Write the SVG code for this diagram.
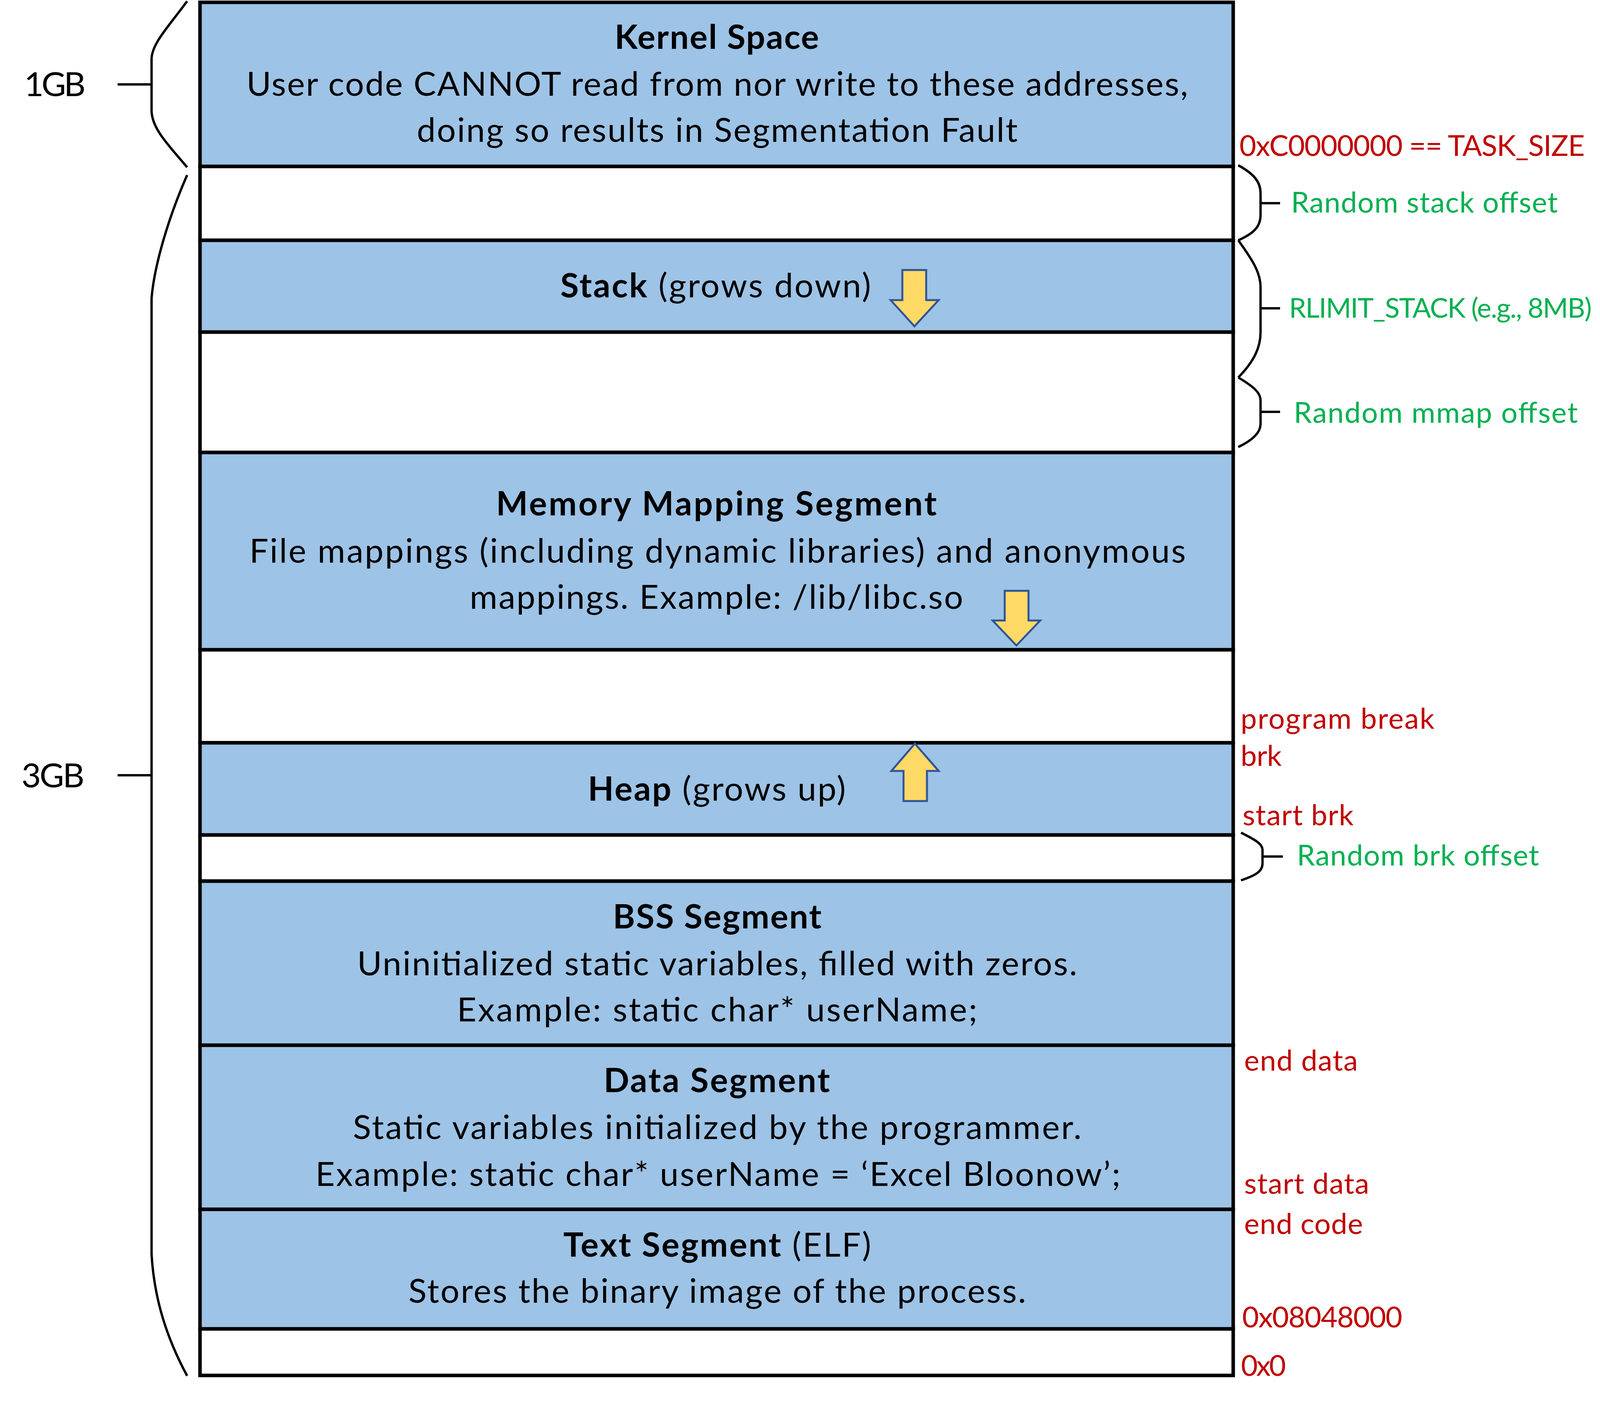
<svg xmlns="http://www.w3.org/2000/svg" width="4225" height="3588" viewBox="0 0 4225 3588">
<style>
.seg{stroke:#000;stroke-width:9}
.blue{fill:#9DC3E6}
.white{fill:#FFFFFF}
.t{font-family:Lato,"Open Sans","Liberation Sans",sans-serif;font-size:86px;fill:#000;text-anchor:middle}
.b{font-weight:bold}
.side{font-family:Lato,"Open Sans","Liberation Sans",sans-serif;font-size:74px}
.red{fill:#C00000}
.green{fill:#00B050}
.left{font-family:Lato,"Open Sans","Liberation Sans",sans-serif;font-size:86px;fill:#000}
.brace{fill:none;stroke:#000;stroke-width:6}
.arrow{fill:#FFD966;stroke:#2F5597;stroke-width:5;stroke-linejoin:miter}
</style>
<rect width="4225" height="3588" fill="#FFFFFF"/>
<g id="kernel-space">
<rect class="seg blue" x="512" y="6" width="2645" height="420"/>
<text class="t b" x="1835" y="125" textLength="523">Kernel Space</text>
<text class="t" x="1836" y="245" textLength="2410">User code CANNOT read from nor write to these addresses,</text>
<text class="t" x="1836" y="363" textLength="1538">doing so results in Segmentation Fault</text>
</g>
<g id="gap-stack-offset">
<rect class="seg white" x="512" y="426" width="2645" height="189"/>
</g>
<g id="stack">
<rect class="seg blue" x="512" y="615" width="2645" height="235"/>
<text class="t" x="1832" y="761" textLength="795"><tspan class="b">Stack</tspan> (grows down)</text>
<polygon class="arrow" points="2310,691 2371,691 2371,768 2403,768 2341,835 2280,768 2310,768"/>
</g>
<g id="gap-mmap-offset">
<rect class="seg white" x="512" y="850" width="2645" height="308"/>
</g>
<g id="memory-mapping-segment">
<rect class="seg blue" x="512" y="1158" width="2645" height="505"/>
<text class="t b" x="1834" y="1319" textLength="1128">Memory Mapping Segment</text>
<text class="t" x="1837" y="1440" textLength="2397">File mappings (including dynamic libraries) and anonymous</text>
<text class="t" x="1834" y="1558" textLength="1263">mappings. Example: /lib/libc.so</text>
<polygon class="arrow" points="2572,1512 2633,1512 2633,1588 2663,1588 2602,1652 2541,1588 2572,1588"/>
</g>
<g id="gap-unmapped">
<rect class="seg white" x="512" y="1663" width="2645" height="238"/>
</g>
<g id="heap">
<rect class="seg blue" x="512" y="1901" width="2645" height="236"/>
<text class="t" x="1835" y="2049" textLength="660"><tspan class="b">Heap</tspan> (grows up)</text>
<polygon class="arrow" points="2342,1903 2403,1973 2373,1973 2373,2050 2313,2050 2313,1973 2282,1973"/>
</g>
<g id="gap-brk-offset">
<rect class="seg white" x="512" y="2137" width="2645" height="118"/>
</g>
<g id="bss-segment">
<rect class="seg blue" x="512" y="2255" width="2645" height="420"/>
<text class="t b" x="1836" y="2376" textLength="534">BSS Segment</text>
<text class="t" x="1836" y="2496" textLength="1843">Uninitialized static variables, filled with zeros.</text>
<text class="t" x="1836" y="2614" textLength="1332">Example: static char* userName;</text>
</g>
<g id="data-segment">
<rect class="seg blue" x="512" y="2675" width="2645" height="420"/>
<text class="t b" x="1835" y="2795" textLength="579">Data Segment</text>
<text class="t" x="1836" y="2915" textLength="1865">Static variables initialized by the programmer.</text>
<text class="t" x="1838" y="3035" textLength="2061">Example: static char* userName = ‘Excel Bloonow’;</text>
</g>
<g id="text-segment">
<rect class="seg blue" x="512" y="3095" width="2645" height="306"/>
<text class="t" x="1836" y="3216" textLength="788"><tspan class="b">Text Segment</tspan> (ELF)</text>
<text class="t" x="1836" y="3334" textLength="1581">Stores the binary image of the process.</text>
</g>
<g id="gap-bottom">
<rect class="seg white" x="512" y="3401" width="2645" height="119"/>
</g>
<g id="size-labels">
<text class="left" x="62" y="246" textLength="157">1GB</text>
<text class="left" x="55" y="2015" textLength="161">3GB</text>
</g>
<g id="address-labels">
<text class="side red" x="3173" y="399" textLength="884">0xC0000000 == TASK_SIZE</text>
<text class="side red" x="3176" y="1865" textLength="496">program break</text>
<text class="side red" x="3176" y="1960" textLength="105">brk</text>
<text class="side red" x="3181" y="2112" textLength="284">start brk</text>
<text class="side red" x="3185" y="2740" textLength="291">end data</text>
<text class="side red" x="3185" y="3055" textLength="320">start data</text>
<text class="side red" x="3185" y="3158" textLength="304">end code</text>
<text class="side red" x="3180" y="3397" textLength="410">0x08048000</text>
<text class="side red" x="3177" y="3521" textLength="115">0x0</text>
</g>
<g id="offset-labels">
<text class="side green" x="3305" y="544" textLength="683">Random stack offset</text>
<text class="side green" x="3300" y="813" style="font-size:70px" textLength="775">RLIMIT_STACK (e.g., 8MB)</text>
<text class="side green" x="3312" y="1082" textLength="727">Random mmap offset</text>
<text class="side green" x="3320" y="2215" textLength="620">Random brk offset</text>
</g>
<g id="connectors">
<path class="brace" d="M479,3 C430,70 390,110 388,150 L388,285 C390,330 430,370 479,428"/>
<path class="brace" d="M301,216 H388"/>
<path class="brace" d="M479,448 C430,560 395,680 388,763 L388,3210 C395,3330 430,3430 479,3521"/>
<path class="brace" d="M301,1984 H388"/>
<path class="brace" d="M3170,423 C3210,445 3227,465 3227,495 L3227,550 C3227,580 3210,597 3170,615"/>
<path class="brace" d="M3227,520 H3277"/>
<path class="brace" d="M3170,615 C3210,670 3227,700 3227,735 L3227,850 C3227,890 3210,925 3170,966"/>
<path class="brace" d="M3227,789 H3277"/>
<path class="brace" d="M3170,966 C3210,990 3227,1005 3227,1025 L3227,1085 C3227,1105 3210,1125 3170,1144"/>
<path class="brace" d="M3227,1054 H3277"/>
<path class="brace" d="M3177,2131 C3215,2150 3232,2160 3232,2175 L3232,2210 C3232,2230 3215,2240 3177,2253"/>
<path class="brace" d="M3232,2192 H3284"/>
</g>
</svg>
